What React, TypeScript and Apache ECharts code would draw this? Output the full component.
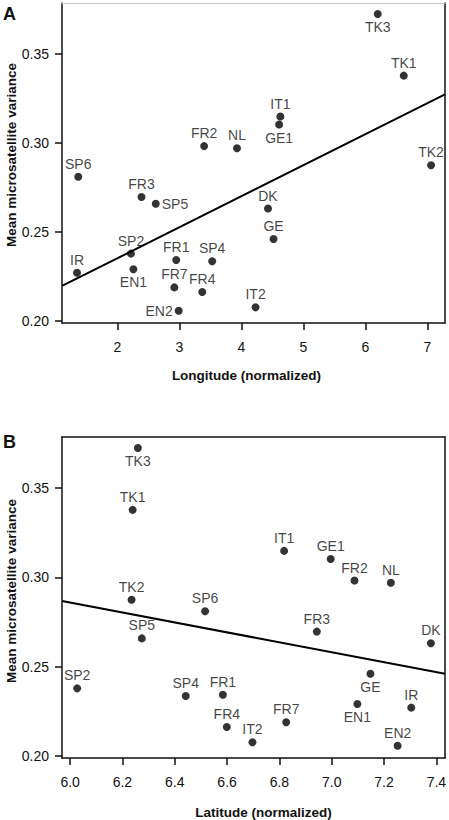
import React, { useEffect, useRef } from "react";
import * as echarts from "echarts";

const populations = ["TK3","TK1","IT1","GE1","FR2","NL","TK2","SP6","FR3","SP5","DK","GE","SP2","FR1","SP4","IR","EN1","FR7","FR4","IT2","EN2"];
const variance = [0.3724,0.3378,0.3148,0.3103,0.2982,0.2970,0.2874,0.2810,0.2696,0.2658,0.2631,0.2460,0.2378,0.2342,0.2335,0.2270,0.2290,0.2188,0.2162,0.2076,0.2057];
const longitude = [6.20,6.62,4.63,4.61,3.40,3.93,7.06,1.37,2.39,2.62,4.43,4.52,2.22,2.95,3.53,1.35,2.26,2.92,3.37,4.23,2.99];
const latitude = [6.259,6.239,6.818,6.996,7.087,7.226,6.235,6.516,6.943,6.274,7.379,7.148,6.027,6.584,6.442,7.304,7.098,6.826,6.599,6.697,7.252];
const labelPosA = ["bottom","top","top","bottom","top","top","top","top","top","right","top","top","top","top","top","top","bottom","top","top","top","left"];
const labelPosB = ["bottom","top","top","top","top","top","top","top","top","top","top","bottom","top","top","top","top","bottom","top","top","top","top"];

const yTicks = [0.20, 0.25, 0.30, 0.35];
const xTicksA = [2, 3, 4, 5, 6, 7];
const xTicksB = [6.0, 6.2, 6.4, 6.6, 6.8, 7.0, 7.2, 7.4];

const fitA = { intercept: 0.2003, slope: 0.01742 };
const fitB = { intercept: 0.4531, slope: -0.02787 };

const yRange = [0.1988, 0.3786];
const xRangeA = [1.108, 7.285];
const xRangeB = [5.969, 7.433];

const FONT = "'Liberation Sans', Arial, Helvetica, sans-serif";
const INK = "#111111";

export default function App() {
  const ref = useRef<HTMLDivElement>(null);
  useEffect(() => {
    if (!ref.current) return;
    const chart = echarts.init(ref.current, null, { renderer: "svg" });

    const mkX = (gridIndex: number, range: number[], ticks: number[], fmt: (v: number) => string, name: string, gap: number, pad: number[]) => [
      {
        type: "value", gridIndex, min: range[0], max: range[1], position: "bottom",
        name, nameLocation: "middle", nameGap: gap, nameMoveOverlap: false,
        nameTextStyle: { fontFamily: FONT, fontWeight: "bold", fontSize: 13.5, color: INK, padding: pad },
        axisLine: { show: true, onZero: false, lineStyle: { color: INK, width: 1.5 } },
        axisTick: { show: true, length: 7, customValues: ticks, lineStyle: { color: INK, width: 1.5 } },
        axisLabel: { customValues: ticks, formatter: fmt, margin: 17, fontFamily: FONT, fontSize: 14, color: INK },
        splitLine: { show: false },
      },
      {
        type: "value", gridIndex, min: range[0], max: range[1], position: "top",
        axisLine: { show: true, onZero: false, lineStyle: { color: gridIndex === 0 ? "#c8c8c8" : INK, width: gridIndex === 0 ? 1 : 1.5 } },
        axisTick: { show: false }, axisLabel: { show: false }, splitLine: { show: false },
      },
    ];
    const mkY = (gridIndex: number, pad: number[]) => [
      {
        type: "value", gridIndex, min: yRange[0], max: yRange[1], position: "left",
        name: "Mean microsatellite variance", nameLocation: "middle", nameGap: 44, nameRotate: 90, nameMoveOverlap: false,
        nameTextStyle: { fontFamily: FONT, fontWeight: "bold", fontSize: 13.5, color: INK, padding: pad },
        axisLine: { show: true, onZero: false, lineStyle: { color: INK, width: 1.5 } },
        axisTick: { show: true, length: 7, customValues: yTicks, lineStyle: { color: INK, width: 1.5 } },
        axisLabel: { customValues: yTicks, formatter: (v: number) => v.toFixed(2), margin: 13, fontFamily: FONT, fontSize: 14, color: INK },
        splitLine: { show: false },
      },
      {
        type: "value", gridIndex, min: yRange[0], max: yRange[1], position: "right",
        axisLine: { show: true, onZero: false, lineStyle: { color: INK, width: 1.5 } },
        axisTick: { show: false }, axisLabel: { show: false }, splitLine: { show: false },
      },
    ];

    const pts = (xs: number[], pos: string[]) => populations.map((p, i) => ({
      name: p,
      value: [xs[i], variance[i]],
      label: { position: pos[i], color: INK },
    }));

    const scatterBase = {
      type: "scatter", symbolSize: 8, itemStyle: { color: "#000" },
      label: { show: true, formatter: "{b}", distance: 2, fontFamily: FONT, fontSize: 14, color: INK },
      emphasis: { disabled: true },
    };

    const fitLine = (fit: { intercept: number; slope: number }, range: number[]) =>
      range.map((x) => [x, fit.intercept + fit.slope * x]);

    const option = {
      animation: false,
      grid: [
        { left: 62, right: 4, top: 3, height: 320, containLabel: false, outerBoundsMode: "none" },
        { left: 62, right: 4, top: 437, height: 321, containLabel: false, outerBoundsMode: "none" },
      ],
      xAxis: [
        ...mkX(0, xRangeA, xTicksA, (v: number) => String(v), "Longitude (normalized)", 45, [0, 14, 0, 0]),
        ...mkX(1, xRangeB, xTicksB, (v: number) => v.toFixed(1), "Latitude (normalized)", 47, [0, 0, 0, 20]),
      ],
      yAxis: [...mkY(0, [0, 0, 0, 16]), ...mkY(1, [0, 0, 0, 13])],
      series: [
        { type: "line", xAxisIndex: 0, yAxisIndex: 0, data: fitLine(fitA, xRangeA), symbol: "none", lineStyle: { color: "#000", width: 2 }, silent: true },
        { ...scatterBase, xAxisIndex: 0, yAxisIndex: 0, data: pts(longitude, labelPosA) },
        { type: "line", xAxisIndex: 2, yAxisIndex: 2, data: fitLine(fitB, xRangeB), symbol: "none", lineStyle: { color: "#000", width: 2 }, silent: true },
        { ...scatterBase, xAxisIndex: 2, yAxisIndex: 2, data: pts(latitude, labelPosB) },
      ],
      graphic: [
        { type: "text", left: 3, top: 5, style: { text: "A", fontFamily: FONT, fontWeight: "bold", fontSize: 18, fill: INK } },
        { type: "text", left: 3, top: 433, style: { text: "B", fontFamily: FONT, fontWeight: "bold", fontSize: 18, fill: INK } },
      ],
    };
    chart.setOption(option as any);
    return () => chart.dispose();
  }, []);
  return <div ref={ref} style={{ position: "absolute", left: 0, top: 0, width: 449, height: 820 }} />;
}
